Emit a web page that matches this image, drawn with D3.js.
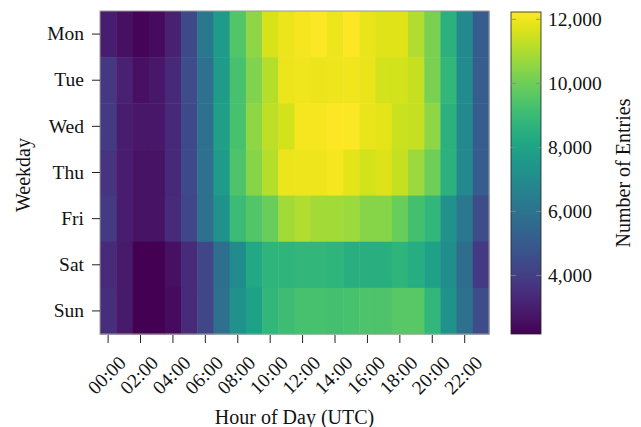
<!DOCTYPE html>
<html lang="en">
<head>
<meta charset="UTF-8">
<script src="https://d3js.org/d3.v7.min.js"></script>
<title>Entries by Weekday and Hour</title>
<style>
  body { margin: 0; background: #fff; }
  text { font-family: "Liberation Serif", "Times New Roman", serif; fill: #111; }
</style>
</head>
<body>
<div id="chart"></div>
<script>
// data: number of entries per weekday and hour (UTC)
var days = ["Mon", "Tue", "Wed", "Thu", "Fri", "Sat", "Sun"];
var hours = d3.range(24);
var hourTicks = ["00:00", "02:00", "04:00", "06:00", "08:00", "10:00", "12:00",
                 "14:00", "16:00", "18:00", "20:00", "22:00"];
var colorTicks = [4000, 6000, 8000, 10000, 12000];

var mon = [2980, 2570, 2270, 2470, 3080, 4380, 6190, 7700, 9510, 10520, 11630, 11930, 12080, 12180, 11980, 12200, 11880, 11730, 11730, 11020, 10220, 8610, 6900, 5090];
var tue = [3780, 3080, 2570, 2770, 3280, 4480, 5890, 7700, 9310, 10320, 11120, 11930, 12030, 11930, 11980, 12030, 11880, 11530, 11530, 11330, 10220, 8810, 7000, 5090];
var wed = [3880, 2980, 2770, 2770, 3280, 4380, 5890, 7800, 9310, 10520, 11220, 11530, 12080, 12080, 12230, 12180, 11880, 11830, 11430, 11330, 10520, 8610, 6900, 5090];
var thu = [3680, 2980, 2670, 2670, 3280, 4380, 5890, 7700, 9410, 10420, 11120, 11930, 11980, 11980, 12080, 11830, 11530, 11680, 11330, 10720, 10020, 8610, 6900, 5090];
var fri = [3880, 2980, 2670, 2670, 3380, 4280, 5890, 7200, 9010, 9510, 9920, 10820, 11020, 10820, 10820, 10720, 10420, 10420, 9920, 9210, 8810, 7200, 6190, 4480];
var sat = [3380, 2870, 2170, 2200, 2570, 3380, 4280, 5790, 7000, 8210, 8710, 8710, 8810, 8810, 8710, 8510, 8510, 8510, 8710, 8410, 7900, 7100, 5690, 3880];
var sun = [3480, 2870, 2190, 2200, 2470, 3380, 4280, 5890, 7200, 7900, 8810, 9110, 9310, 9310, 9210, 9310, 9410, 9410, 9610, 9610, 8810, 7200, 5890, 4480];

var rows = [mon, tue, wed, thu, fri, sat, sun];

var width = 641, height = 427;
var plot = {left: 100, top: 11, right: 489, bottom: 334};
var bar = {left: 511, right: 541, top: 12, bottom: 334};

var svg = d3.select("#chart").append("svg")
    .attr("width", width).attr("height", height);

// flatten into cells
var cells = [];
rows.forEach(function (r, i) {
    r.forEach(function (v, h) {
        cells.push({day: days[i], hour: h, value: v});
    });
});

var x = d3.scaleBand().domain(hours).range([plot.left, plot.right]);
var y = d3.scaleBand().domain(days).range([plot.top, plot.bottom]);

var extent = d3.extent(cells, function (d) { return d.value; });
var color = d3.scaleSequential(d3.interpolateViridis).domain(extent);

// heatmap cells
svg.append("g")
    .selectAll("rect")
    .data(cells)
    .join("rect")
    .attr("x", function (d) { return x(d.hour); })
    .attr("y", function (d) { return y(d.day); })
    .attr("width", x.bandwidth() + 0.5)
    .attr("height", y.bandwidth() + 0.5)
    .attr("fill", function (d) { return color(d.value); });

// axis frame
svg.append("rect")
    .attr("x", plot.left).attr("y", plot.top)
    .attr("width", plot.right - plot.left).attr("height", plot.bottom - plot.top)
    .attr("fill", "none").attr("stroke", "#999").attr("stroke-width", 1);

// y axis
var yAxis = svg.append("g")
    .attr("transform", "translate(" + plot.left + ",0)")
    .call(d3.axisLeft(y).tickSize(8).tickPadding(8));
yAxis.select(".domain").remove();
yAxis.selectAll("line").attr("stroke", "#222");
yAxis.selectAll("text").attr("font-size", "19.5px")
    .style("font-family", "Liberation Serif, serif").attr("fill", "#111");

// x axis: ticks at even hours, labels rotated 45 degrees
var evenHours = hours.filter(function (h) { return h % 2 === 0; });
var xAxis = svg.append("g")
    .attr("transform", "translate(0," + (plot.bottom + 1) + ")")
    .call(d3.axisBottom(x).tickValues(evenHours).tickSize(8).tickFormat(""));
xAxis.select(".domain").remove();
xAxis.selectAll("line").attr("stroke", "#222");

svg.append("g").selectAll("text")
    .data(evenHours)
    .join("text")
    .attr("transform", function (h) {
        return "translate(" + (x(h) + x.bandwidth() / 2 + 19) + "," + (plot.bottom + 30) + ") rotate(-45)";
    })
    .attr("text-anchor", "end")
    .attr("font-size", "19.5px")
    .text(function (h) { return hourTicks[h / 2]; });

// axis titles
svg.append("text")
    .attr("x", (plot.left + plot.right) / 2).attr("y", 424)
    .attr("text-anchor", "middle").attr("font-size", "20px")
    .text("Hour of Day (UTC)");

svg.append("text")
    .attr("transform", "translate(30,175) rotate(-90)")
    .attr("text-anchor", "middle").attr("font-size", "20px")
    .text("Weekday");

// colour bar
var defs = svg.append("defs");
var grad = defs.append("linearGradient").attr("id", "cbar")
    .attr("x1", 0).attr("y1", 1).attr("x2", 0).attr("y2", 0);
d3.range(0, 1.0001, 0.05).forEach(function (t) {
    grad.append("stop").attr("offset", t)
        .attr("stop-color", d3.interpolateViridis(t));
});

svg.append("rect")
    .attr("x", bar.left).attr("y", bar.top)
    .attr("width", bar.right - bar.left).attr("height", bar.bottom - bar.top)
    .attr("fill", "url(#cbar)").attr("stroke", "#222").attr("stroke-width", 0.8);

var cy = d3.scaleLinear().domain(extent).range([bar.bottom, bar.top]);

var cticks = svg.append("g").selectAll("g")
    .data(colorTicks)
    .join("g")
    .attr("transform", function (d) { return "translate(0," + cy(d) + ")"; });
cticks.append("line")
    .attr("x1", bar.left).attr("x2", bar.left + 5)
    .attr("stroke", "#888").attr("stroke-width", 0.8);
cticks.append("line")
    .attr("x1", bar.right - 5).attr("x2", bar.right)
    .attr("stroke", "#888").attr("stroke-width", 0.8);
cticks.append("text")
    .attr("x", bar.right + 7).attr("dy", "0.33em")
    .attr("font-size", "19.5px")
    .text(function (d) { return d3.format(",")(d); });

svg.append("text")
    .attr("transform", "translate(630,173) rotate(-90)")
    .attr("text-anchor", "middle").attr("font-size", "20px")
    .text("Number of Entries");
</script>
</body>
</html>
